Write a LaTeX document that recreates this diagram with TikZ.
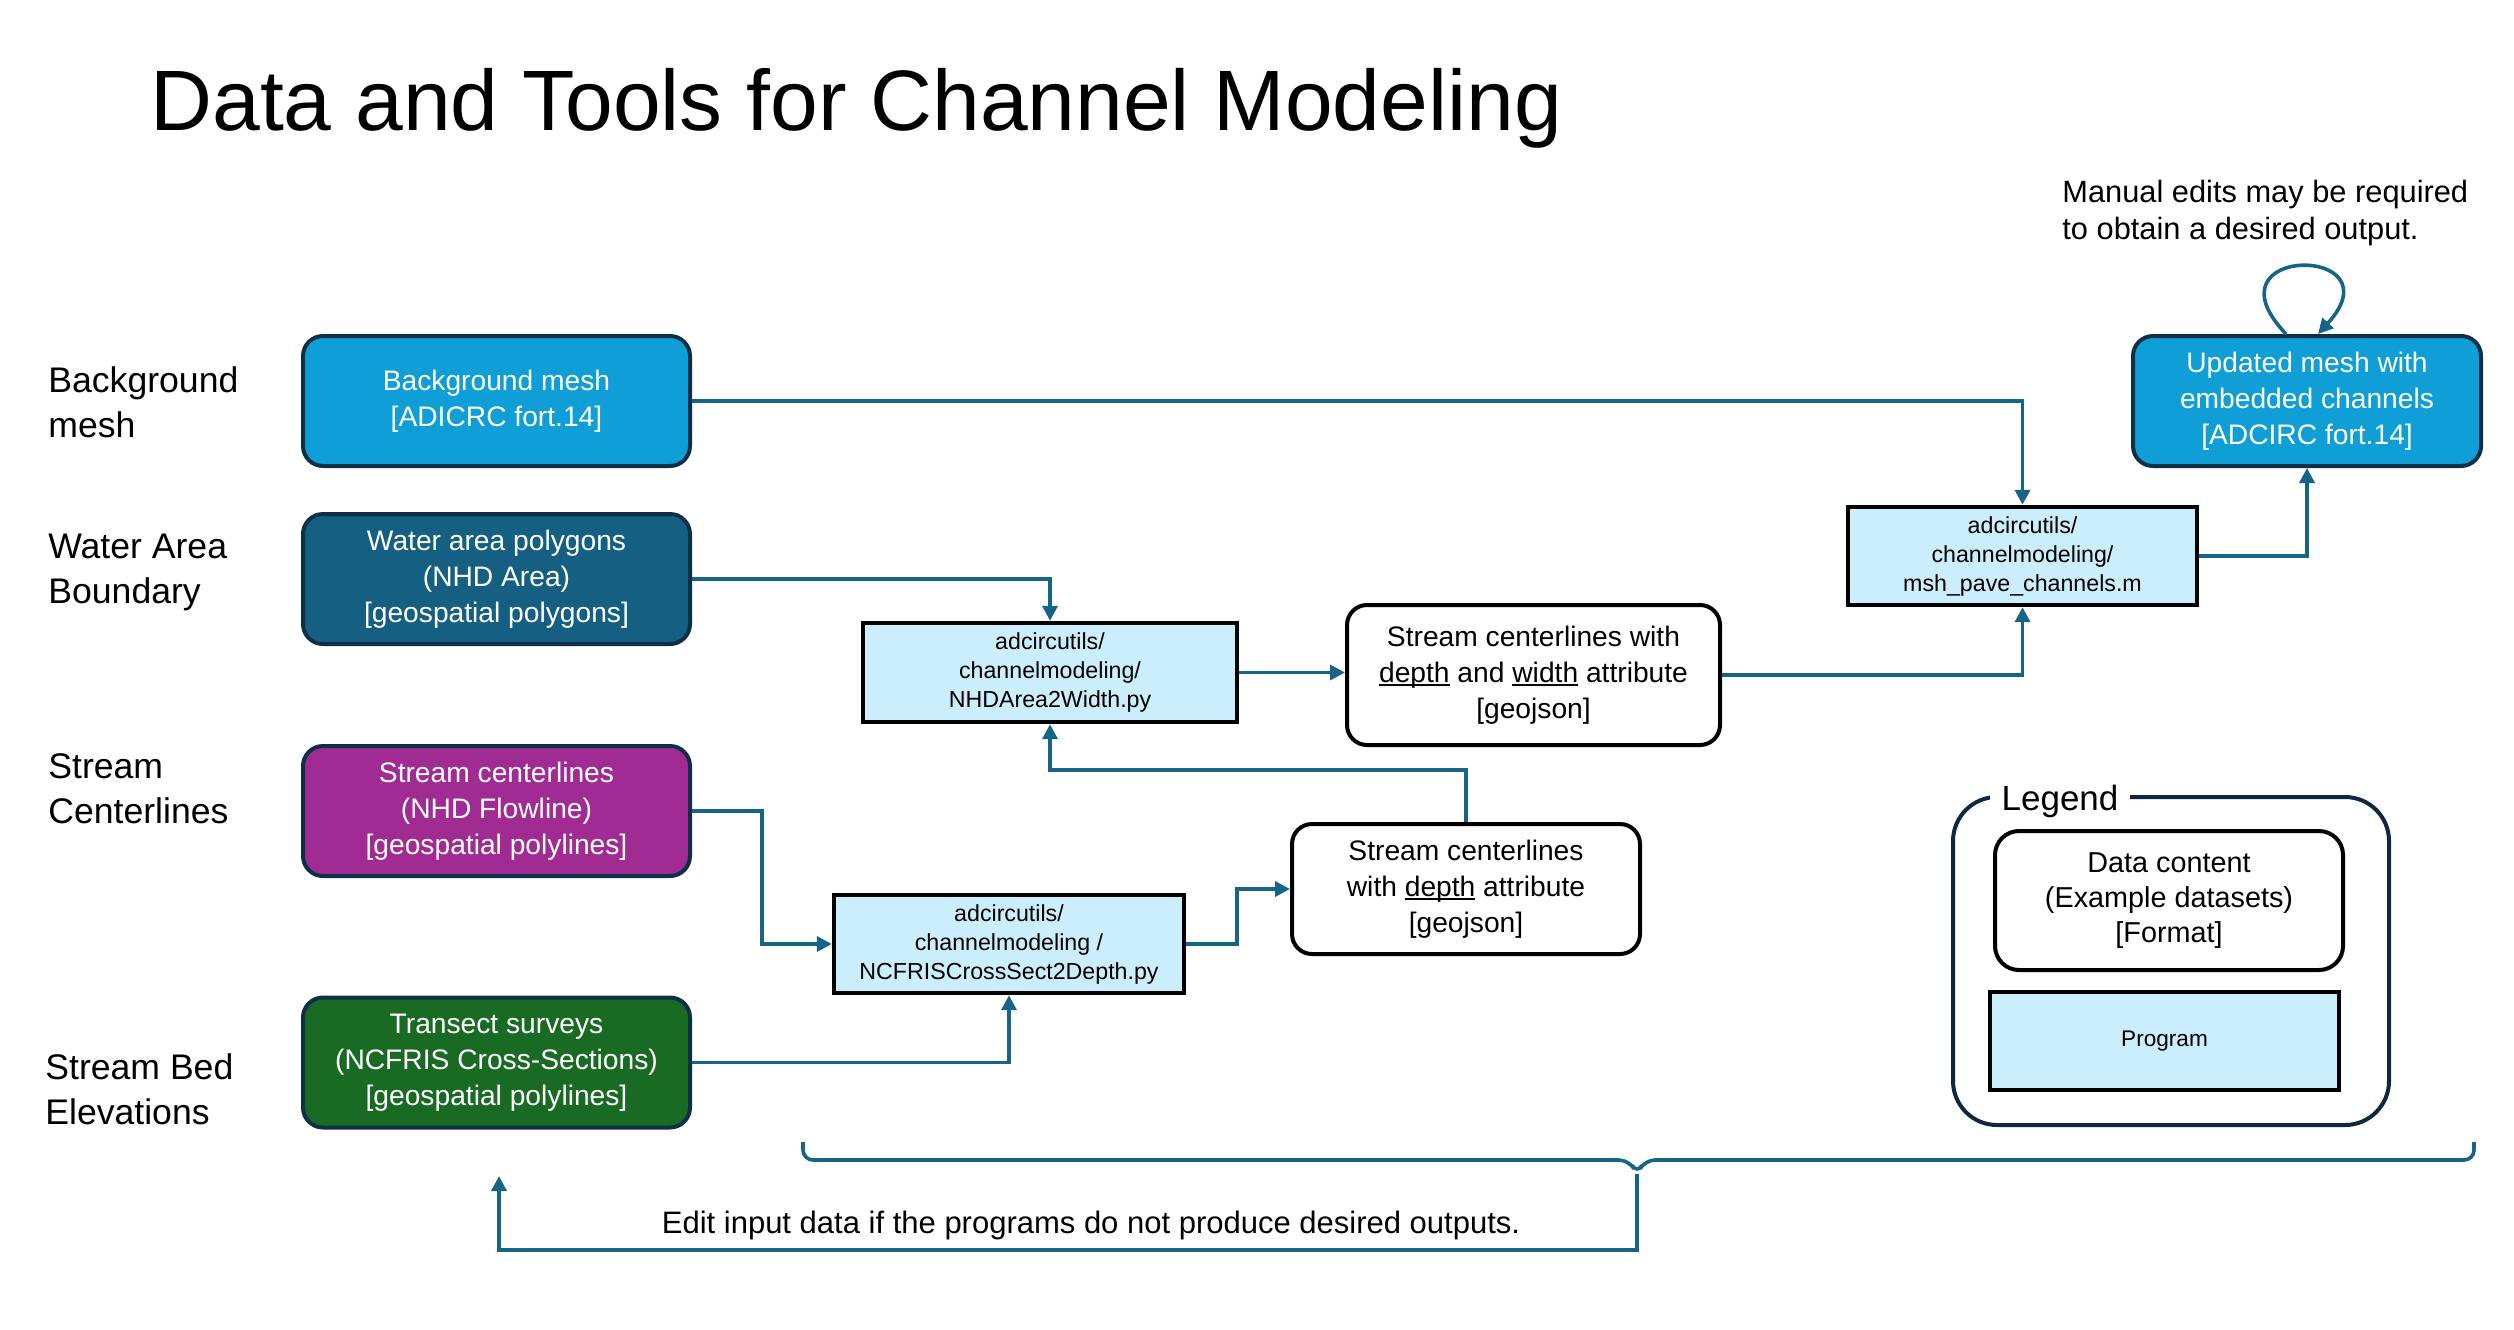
\documentclass[tikz,border=0pt]{standalone}
\usepackage{fontspec}
\setmainfont{Liberation Sans}
\usetikzlibrary{arrows.meta}
\definecolor{bgblue}{HTML}{0F9ED5}
\definecolor{wteal}{HTML}{156082}
\definecolor{spurple}{HTML}{A02B93}
\definecolor{tgreen}{HTML}{196B24}
\definecolor{progfill}{HTML}{CAEEFB}
\definecolor{dborder}{HTML}{0E3047}
\definecolor{connc}{HTML}{17648A}
\definecolor{legborder}{HTML}{0E2841}
\newcommand\myuline[1]{\setbox0\hbox{#1}\rlap{\rule[-1.6pt]{\wd0}{0.65pt}}\box0\relax}
\tikzset{
  boxfont/.style={font=\fontsize{14.1pt}{18pt}\selectfont},
  progfont/.style={font=\fontsize{11.6pt}{14.5pt}\selectfont},
  labelfont/.style={font=\fontsize{17.8pt}{22.5pt}\selectfont},
  databox/.style={rounded corners=10pt, draw=dborder, line width=2pt, text=white,
    align=center, boxfont, minimum width=193.5pt, minimum height=65pt, inner sep=0pt},
  progbox/.style={draw=black, line width=2.2pt, fill=progfill, align=center, progfont, inner sep=0pt},
  outbox/.style={rounded corners=10pt, draw=black, line width=2pt, fill=white, align=center,
    boxfont, inner sep=0pt},
  sidelabel/.style={anchor=west, align=left, labelfont, inner sep=0pt},
  conn/.style={draw=connc, line width=1.8pt, -{Triangle[length=7.5pt,width=7.5pt]}},
  connline/.style={draw=connc, line width=1.8pt},
}
\begin{document}
\begin{tikzpicture}[x=0.5pt,y=-0.5pt]
\useasboundingbox (0,0) rectangle (2514,1329);

% title
\node[anchor=base west, inner sep=0pt, font=\fontsize{42.9pt}{50pt}\selectfont] (title) at (150,130) {Data and Tools for Channel Modeling};

% side labels
\node[sidelabel] (lbg) at (48,402) {Background\\mesh};
\node[sidelabel] (lwa) at (48,572) {Water Area\\Boundary};
\node[sidelabel] (lsc) at (48,789) {Stream\\Centerlines};
\node[sidelabel] (lsb) at (45,1089) {Stream Bed\\Elevations};

% data boxes
\node[databox, fill=bgblue] (bg) at (496.5,401) {Background mesh\\{[ADICRC fort.14]}};
\node[databox, fill=wteal] (water) at (496.5,579) {Water area polygons\\(NHD Area)\\{[geospatial polygons]}};
\node[databox, fill=spurple] (stream) at (496.5,811) {Stream centerlines\\(NHD Flowline)\\{[geospatial polylines]}};
\node[databox, fill=tgreen] (transect) at (496.5,1062.5) {Transect surveys\\(NCFRIS Cross-Sections)\\{[geospatial polylines]}};

% programs
\node[progbox, minimum width=187pt, minimum height=49.5pt] (nhd) at (1050,672.5) {adcircutils/\\channelmodeling/\\NHDArea2Width.py};
\node[progbox, minimum width=175pt, minimum height=49pt] (ncfris) at (1009,944) {adcircutils/\\channelmodeling /\\NCFRISCrossSect2Depth.py};
\node[progbox, minimum width=174.5pt, minimum height=49pt] (msh) at (2022.5,556) {adcircutils/\\channelmodeling/\\msh\_pave\_channels.m};

% outputs
\node[outbox, minimum width=186.5pt, minimum height=70pt] (scdw) at (1533.5,675) {Stream centerlines with\\\myuline{depth} and \myuline{width} attribute\\{[geojson]}};
\node[outbox, minimum width=174pt, minimum height=65pt] (scd) at (1466,889) {Stream centerlines\\with \myuline{depth} attribute\\{[geojson]}};
\node[databox, fill=bgblue, minimum width=174pt, minimum height=65pt] (upd) at (2307,401) {Updated mesh with\\embedded channels\\{[ADCIRC fort.14]}};

% manual edits note
\node[anchor=west, align=left, inner sep=0pt, font=\fontsize{15.4pt}{18.5pt}\selectfont] (note) at (2062,213) {Manual edits may be required\\to obtain a desired output.};

% connectors
\draw[conn] (bg.east) -| (msh.north);
\draw[conn] (water.east) -| (nhd.north);
\draw[conn] (nhd.east) -- (nhd.east -| scdw.west);
\draw[conn] (scdw.east) -| (msh.south);
\draw[conn] (msh.east) -| (upd.south);
\draw[conn] (stream.east) -- ++(70,0) |- (ncfris.west);
\draw[conn] (transect.east) -| (ncfris.south);
\draw[conn] (ncfris.east) -- ++(51,0) |- (scd.west);
\draw[conn] (scd.north) -- ++(0,-52) -| (nhd.south);
\draw[conn] ([xshift=-10.5pt]upd.north) .. controls +(-86,-90) and +(82,-90) .. ([xshift=5.5pt]upd.north);

% legend
\node[draw=legborder, line width=2pt, rounded corners=22pt, minimum width=218pt, minimum height=164pt, inner sep=0pt] (legend) at (2171,961) {};
\node[anchor=base, fill=white, inner xsep=6pt, inner ysep=2pt, font=\fontsize{17.5pt}{21pt}\selectfont] (legtitle) at (2060,810) {Legend};
\node[outbox, rounded corners=12pt, minimum width=174pt, minimum height=69.5pt, font=\fontsize{14.4pt}{17.5pt}\selectfont] (legdata) at (2169,900.5) {Data content\\(Example datasets)\\{[Format]}};
\node[progbox, minimum width=174.5pt, minimum height=49pt, font=\fontsize{11.3pt}{14pt}\selectfont] (legprog) at (2164.5,1041) {Program};

% feedback brace
\coordinate (braceL) at (803,1142);
\coordinate (braceR) at (2474,1142);
\coordinate (bracetip) at (1637,1174);
\coordinate (editin) at (499,1176);
\draw[connline, rounded corners=5pt] (braceL) -- (803,1160) -- (1629,1160) -- (bracetip) -- (1645,1160) -- (2474,1160) -- (braceR);
\draw[conn] (bracetip) -- ++(0,76) -| (editin);
\node[anchor=base, inner sep=0pt, font=\fontsize{15.5pt}{18pt}\selectfont] (edit) at (1091,1233) {Edit input data if the programs do not produce desired outputs.};
\end{tikzpicture}
\end{document}
